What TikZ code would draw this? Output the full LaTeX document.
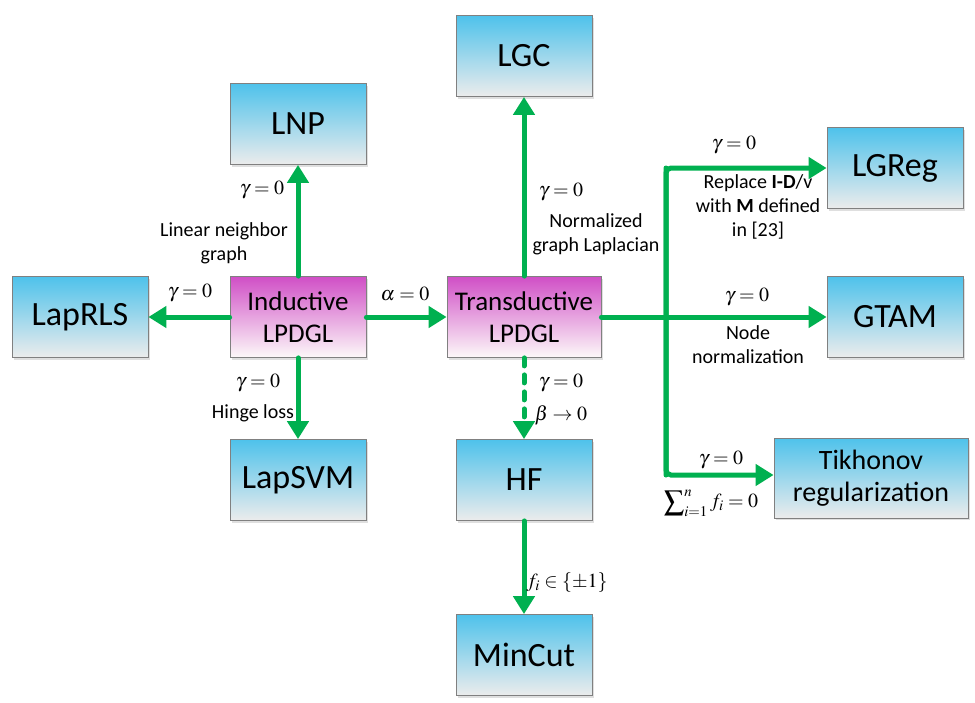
\documentclass[tikz,border=0pt]{standalone}
\usepackage{mathptmx}
\usepackage[no-math]{fontspec}
\setmainfont{Carlito}
\usetikzlibrary{arrows.meta,shadows}

\definecolor{skytop}{HTML}{4EC2EB}
\definecolor{pinktop}{HTML}{D04FC6}
\definecolor{boxfloor}{HTML}{ECECEC}
\definecolor{linkgreen}{HTML}{00B050}

\tikzset{
	box/.style={draw=black!50, line width=0.8pt, top color=skytop, bottom color=boxfloor,
		minimum width=136pt, minimum height=81pt, inner sep=0pt, align=center,
		font=\fontsize{34}{38}\selectfont,
		drop shadow={shadow xshift=2pt, shadow yshift=-2pt, fill=black!25}},
	mainbox/.style={box, top color=pinktop, bottom color=boxfloor!70!pink!20,
		font=\fontsize{27}{32}\selectfont},
	link/.style={line width=5pt, draw=linkgreen, line cap=round,
		-{Triangle[length=18pt,width=21pt,fill=linkgreen]}},
	lbl/.style={font=\fontsize{20}{24}\selectfont, align=center, inner sep=0pt},
}

\begin{document}
\begin{tikzpicture}[x=1pt,y=-1pt]
	\useasboundingbox (0,0) rectangle (975,702);
	
	% Boxes
	\node[mainbox] (ind) at (298,317) {Inductive\\LPDGL};
	\node[mainbox, minimum width=154pt] (trans) at (524,317) {Transductive\\LPDGL};
	\node[box] (lnp) at (298,124) {LNP};
	\node[box] (laprls) at (80,317) {LapRLS};
	\node[box] (lapsvm) at (298,480) {LapSVM};
	\node[box] (lgc) at (524,56) {LGC};
	\node[box] (hf) at (524,480) {HF};
	\node[box] (mincut) at (524,655) {MinCut};
	\node[box] (lgreg) at (895,168) {LGReg};
	\node[box] (gtam) at (895,317) {GTAM};
	\node[box, minimum width=194pt, minimum height=80pt, font=\fontsize{28}{32}\selectfont] (tik) at (871,478) {Tikhonov\\regularization};
	
	% Branch points
	\coordinate (brtop) at (666,168);
	\coordinate (brbot) at (666,475);
	
	% Arrows
	\draw[link] (ind.north) -- (lnp.south);
	\draw[link] (ind.west) -- (laprls.east);
	\draw[link] (ind.south) -- (lapsvm.north);
	\draw[link] (ind.east) -- (trans.west);
	\draw[link] (trans.north) -- (lgc.south);
	\draw[link, dash pattern=on 8pt off 9pt] (trans.south) -- (hf.north);
	\draw[link] (hf.south) -- (mincut.north);
	\draw[link] (trans.east) -- (gtam.west);
	\draw[link, rounded corners=5pt] (brbot) -- (brtop) -- (lgreg.west |- brtop);
	\draw[link, rounded corners=5pt] (brtop) -- (brbot) -- (tik.west |- brbot);
	
	% Labels
	\node[lbl] (g1) at (262,190) {$\gamma=0$};
	\node[lbl] (t1) at (224,243) {Linear neighbor\\graph};
	\node[lbl] (g2) at (190,293) {$\gamma=0$};
	\node[lbl] (a1) at (405,294) {$\alpha=0$};
	\node[lbl] (g3) at (258,383) {$\gamma=0$};
	\node[lbl] (t3) at (253,413) {Hinge loss};
	\node[lbl] (g4) at (561,192) {$\gamma=0$};
	\node[lbl] (t4) at (596,234) {Normalized\\graph Laplacian};
	\node[lbl] (g5) at (734,145) {$\gamma=0$};
	\node[lbl] (t5) at (758,207) {Replace \textbf{I-D}/v\\with \textbf{M} defined\\in [23]};
	\node[lbl] (g6) at (747,297) {$\gamma=0$};
	\node[lbl] (t6) at (748,345) {Node\\normalization};
	\node[lbl] (g7) at (721,460) {$\gamma=0$};
	\node[lbl] (t7) at (711,503) {$\displaystyle\sum\nolimits_{i=1}^{n} f_i=0$};
	\node[lbl] (g8) at (561,383) {$\gamma=0$};
	\node[lbl] (b8) at (561,415) {$\beta\rightarrow0$};
	\node[lbl] (f9) at (567,583) {$f_i\in\{\pm1\}$};
\end{tikzpicture}
\end{document}
